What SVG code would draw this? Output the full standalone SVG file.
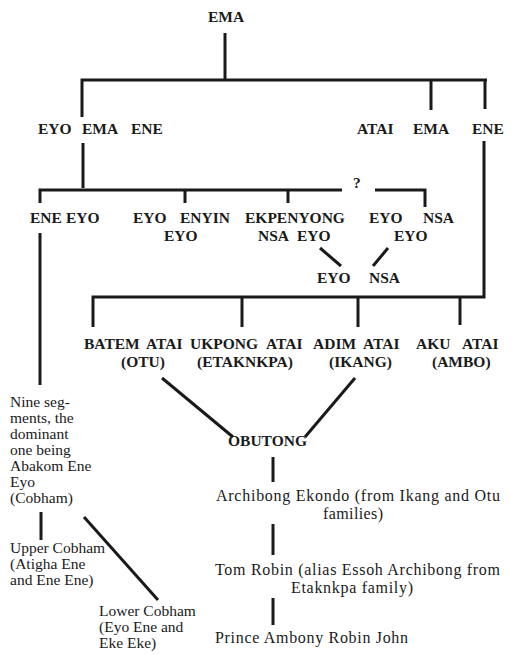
<svg xmlns="http://www.w3.org/2000/svg" width="511" height="655" viewBox="0 0 511 655">
<style>
.c{font-family:"Liberation Serif","Times New Roman",serif;font-size:15.5px;font-weight:bold;fill:#1a1a1a}
.t{font-family:"Liberation Serif","Times New Roman",serif;font-size:15.5px;fill:#1a1a1a}
.r{font-family:"Liberation Serif","Times New Roman",serif;font-size:16px;fill:#1a1a1a}
.l{fill:none;stroke:#1a1a1a;stroke-width:3;stroke-linecap:butt;stroke-linejoin:miter}
</style>
<rect width="511" height="655" fill="#fff"/>
<g id="connectors" class="l">
<path d="M225,33V79"/>
<path d="M82,117V80H487"/>
<path d="M431,80V110"/>
<path d="M485,80V109"/>
<path d="M83,143V188"/>
<path d="M40,203V190H342"/>
<path d="M375,190H425V207"/>
<path d="M185,190V203"/>
<path d="M288,190V203"/>
<path d="M320,248L341,266"/>
<path d="M388,248L373,266"/>
<path d="M484,141V297H93V327"/>
<path d="M242,297V327"/>
<path d="M358,297V327"/>
<path d="M460,297V325"/>
<path d="M40,233V385"/>
<path d="M162,378L233,437"/>
<path d="M355,378L305,437"/>
<path d="M273,457V482"/>
<path d="M273,524V555"/>
<path d="M273,598V625"/>
<path d="M41,512V540"/>
<path d="M84,517L158,600"/>
</g>
<g id="n-ema"><text class="c" x="208" y="22">EMA</text></g>
<g id="n-eyo-ema-ene"><text class="c" y="134"><tspan x="38">EYO</tspan> <tspan x="82">EMA</tspan> <tspan x="131">ENE</tspan></text></g>
<g id="n-atai-ema-ene"><text class="c" y="134"><tspan x="357">ATAI</tspan> <tspan x="413">EMA</tspan> <tspan x="472">ENE</tspan></text></g>
<g id="n-q"><text class="c" x="353" y="188">?</text></g>
<g id="n-ene-eyo"><text class="c" y="223"><tspan x="30">ENE</tspan> <tspan x="66">EYO</tspan></text></g>
<g id="n-eyo-enyin"><text class="c" y="223"><tspan x="133">EYO</tspan> <tspan x="180">ENYIN</tspan></text><text class="c" x="164" y="241">EYO</text></g>
<g id="n-ekpenyong"><text class="c" x="245" y="223">EKPENYONG</text><text class="c" y="241"><tspan x="258">NSA</tspan> <tspan x="297">EYO</tspan></text></g>
<g id="n-eyo-nsa-eyo"><text class="c" y="223"><tspan x="369">EYO</tspan> <tspan x="423">NSA</tspan></text><text class="c" x="394" y="241">EYO</text></g>
<g id="n-eyo-nsa"><text class="c" y="283"><tspan x="317">EYO</tspan> <tspan x="369">NSA</tspan></text></g>
<g id="n-batem"><text class="c" y="349"><tspan x="84">BATEM</tspan> <tspan x="146">ATAI</tspan></text><text class="c" x="121" y="367">(OTU)</text></g>
<g id="n-ukpong"><text class="c" y="349"><tspan x="190">UKPONG</tspan> <tspan x="266">ATAI</tspan></text><text class="c" x="197" y="367">(ETAKNKPA)</text></g>
<g id="n-adim"><text class="c" y="349"><tspan x="313">ADIM</tspan> <tspan x="363">ATAI</tspan></text><text class="c" x="329" y="367">(IKANG)</text></g>
<g id="n-aku"><text class="c" y="349"><tspan x="416">AKU</tspan> <tspan x="462">ATAI</tspan></text><text class="c" x="432" y="367">(AMBO)</text></g>
<g id="n-nine"><text class="t" x="10" y="407">Nine seg-</text><text class="t" x="10" y="423">ments, the</text><text class="t" x="10" y="439">dominant</text><text class="t" x="10" y="455">one being</text><text class="t" x="10" y="471">Abakom Ene</text><text class="t" x="10" y="487">Eyo</text><text class="t" x="10" y="503">(Cobham)</text></g>
<g id="n-upper"><text class="t" x="10" y="553">Upper Cobham</text><text class="t" x="10" y="569">(Atigha Ene</text><text class="t" x="10" y="585">and Ene Ene)</text></g>
<g id="n-lower"><text class="t" x="99" y="616">Lower Cobham</text><text class="t" x="99" y="632">(Eyo Ene and</text><text class="t" x="99" y="648">Eke Eke)</text></g>
<g id="n-obutong"><text class="c" x="228" y="446">OBUTONG</text></g>
<g id="n-archibong"><text class="r" x="216" y="501" textLength="284" lengthAdjust="spacing">Archibong Ekondo (from Ikang and Otu</text><text class="r" x="323" y="519" textLength="60" lengthAdjust="spacing">families)</text></g>
<g id="n-tom"><text class="r" x="215" y="575" textLength="285" lengthAdjust="spacing">Tom Robin (alias Essoh Archibong from</text><text class="r" x="291" y="593" textLength="122" lengthAdjust="spacing">Etaknkpa family)</text></g>
<g id="n-prince"><text class="r" x="215" y="643" textLength="193" lengthAdjust="spacing">Prince Ambony Robin John</text></g>
</svg>
